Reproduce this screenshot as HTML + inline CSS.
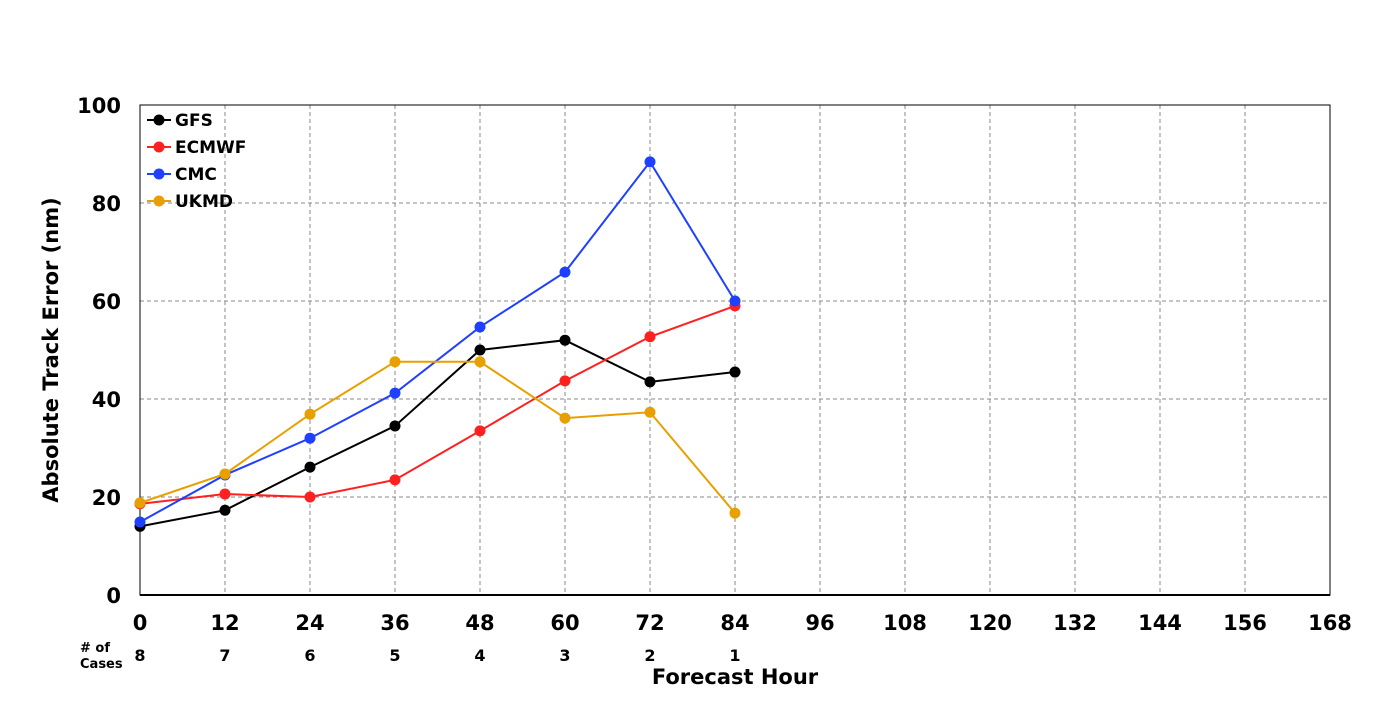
<!DOCTYPE html>
<html><head><meta charset="utf-8"><style>
body{margin:0;background:#fff;font-family:"DejaVu Sans","Liberation Sans",sans-serif;}
svg text{font-family:"DejaVu Sans","Liberation Sans",sans-serif;font-weight:bold;}
</style></head><body>
<svg id="chart" width="1400" height="700" xmlns="http://www.w3.org/2000/svg">
<g id="grid"></g>
<g id="axes"></g>
<g id="series"></g>
<g id="legend"></g>
<text x="58" y="350" font-size="21" text-anchor="middle" transform="rotate(-90 58 350)">Absolute Track Error (nm)</text>
<text x="735" y="684" font-size="21" text-anchor="middle">Forecast Hour</text>
<text x="80" y="652" font-size="13">#  of</text>
<text x="80" y="668" font-size="13">Cases</text>
</svg>
<script>
const hours=[0,12,24,36,48,60,72,84];
const xTicks=[0,12,24,36,48,60,72,84,96,108,120,132,144,156,168];
const yTicks=[0,20,40,60,80,100];
const cases=[8,7,6,5,4,3,2,1];
const gfs=[14,17.3,26.1,34.5,50,52,43.5,45.5];
const ecmwf=[18.6,20.6,20,23.5,33.5,43.7,52.7,59];
const cmc=[14.9,24.5,32,41.2,54.7,65.9,88.4,60];
const ukmd=[18.8,24.7,36.9,47.6,47.6,36.1,37.3,16.7];
const L=140,R=1330,T=105,B=595;
const xs=h=>L+(R-L)*h/168, ys=v=>B-(B-T)*v/100;
const NS="http://www.w3.org/2000/svg";
function mk(tag,attrs,parent,txt){const e=document.createElementNS(NS,tag);for(const k in attrs)e.setAttribute(k,attrs[k]);if(txt!==undefined)e.textContent=txt;parent.appendChild(e);return e;}
const grid=document.getElementById('grid'),axes=document.getElementById('axes'),ser=document.getElementById('series'),leg=document.getElementById('legend');
xTicks.forEach(t=>{
 if(t>0&&t<168){const l=mk('line',{x1:xs(t),x2:xs(t),y1:T,y2:B,stroke:'#888','stroke-dasharray':'4,3'},grid);
 }
 const tx=mk('text',{x:xs(t),y:630,'font-size':21,'text-anchor':'middle'},axes,t);
 
});
yTicks.forEach(t=>{
 if(t>0&&t<100){const l=mk('line',{x1:L,x2:R,y1:ys(t),y2:ys(t),stroke:'#888','stroke-dasharray':'4,3'},grid);
 }
 const tx=mk('text',{x:121,y:ys(t)+8,'font-size':21,'text-anchor':'end'},axes,t);
 
});
const frame=mk('rect',{x:L,y:T,width:R-L,height:B-T,fill:'none',stroke:'#000','stroke-width':1},axes);

const xl=mk('line',{x1:L,x2:R,y1:B,y2:B,stroke:'#000','stroke-width':2},axes);

hours.forEach((h,i)=>{const tx=mk('text',{x:xs(h),y:661,'font-size':16,'text-anchor':'middle'},axes,cases[i]);
 });
const S=[['GFS',gfs,'#000'],['ECMWF',ecmwf,'#ff2020'],['CMC',cmc,'#2040ff'],['UKMD',ukmd,'#e8a000']];
S.forEach(([name,vals,c],si)=>{
 const g=mk('g',{},ser);
 const p=mk('polyline',{points:vals.map((v,i)=>xs(hours[i])+','+ys(v)).join(' '),fill:'none',stroke:c,'stroke-width':2},g);
 
 vals.forEach((v,i)=>{const d=mk('circle',{cx:xs(hours[i]),cy:ys(v),r:5.5,fill:c},g);
  });
 const y=120+si*27;
 const e=mk('g',{},leg);
 mk('line',{x1:147,x2:171,y1:y,y2:y,stroke:c,'stroke-width':2},e);
 mk('circle',{cx:159,cy:y,r:5.5,fill:c},e);
 mk('text',{x:175,y:y+6,'font-size':17},e,name);
});
</script>
</body></html>
